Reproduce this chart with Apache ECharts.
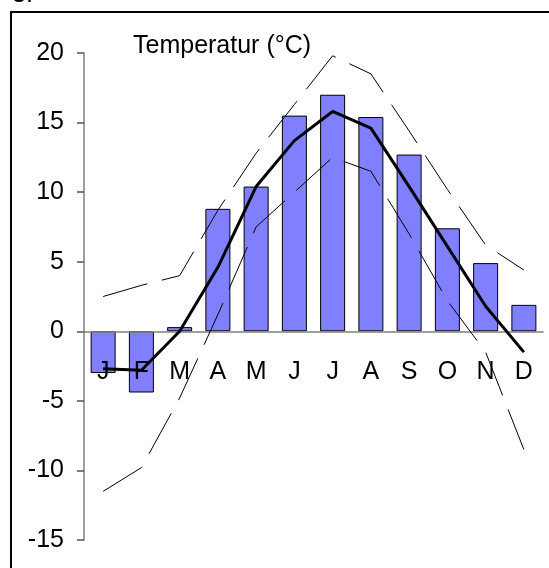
<!DOCTYPE html>
<html><head><meta charset="utf-8">
<script src="https://cdn.jsdelivr.net/npm/echarts@6/dist/echarts.min.js"></script>
<style>html,body{margin:0;padding:0;background:#fff}#c{width:549px;height:568px}</style>
</head><body><div id="c"></div>
<script>
const categories = ['J','F','M','A','M','J','J','A','S','O','N','D'];
const barValues = [-3.0, -4.4, 0.3, 8.8, 10.4, 15.5, 17.0, 15.4, 12.7, 7.4, 4.9, 1.9];
const meanValues = [-2.7, -2.8, 0.0, 4.6, 10.4, 13.7, 15.8, 14.6, 10.4, 6.1, 1.8, -1.5];
const maxValues = [2.5, 3.3, 4.0, 8.7, 12.8, 16.3, 19.8, 18.5, 14.4, 10.2, 6.2, 4.4];
const minValues = [-11.5, -9.8, -4.8, 1.2, 7.5, 10.0, 12.5, 11.5, 7.0, 2.2, -1.5, -8.5];
const titleText = 'Temperatur (°C)';

const FONT = "'Liberation Sans', Arial, sans-serif";
const chart = echarts.init(document.getElementById('c'), null, {renderer: 'canvas'});
const option = {
  animation: false,
  grid: {left: 84, right: 6, top: 53, bottom: 28, containLabel: false, outerBoundsMode: 'none'},
  xAxis: {
    type: 'category', data: categories, z: 5,
    axisLine: {onZero: true, lineStyle: {color: '#808080', width: 1.5}},
    axisTick: {show: false},
    axisLabel: {color: '#000', fontSize: 25, fontFamily: FONT, margin: -180, interval: 0},
    splitLine: {show: false}
  },
  yAxis: {
    type: 'value', min: -15, max: 20, interval: 5,
    axisLine: {show: true, lineStyle: {color: '#808080', width: 1.5}},
    axisTick: {show: true, length: 7, lineStyle: {color: '#555', width: 1.5}},
    axisLabel: {color: '#000', fontSize: 25, fontFamily: FONT, margin: 20},
    splitLine: {show: false}
  },
  series: [
    {type: 'bar', data: barValues, barWidth: 25, z: 2,
     itemStyle: {color: '#8080FF', borderColor: '#000', borderWidth: 1}},
    {type: 'line', data: maxValues, symbol: 'none', z: 6,
     lineStyle: {color: '#000', width: 1, type: [46, 15]}},
    {type: 'line', data: minValues, symbol: 'none', z: 6,
     lineStyle: {color: '#000', width: 1, type: [46, 15]}},
    {type: 'line', data: meanValues, symbol: 'none', z: 7,
     lineStyle: {color: '#000', width: 3}}
  ],
  graphic: [
    {type: 'rect', z: 100, shape: {x: 11, y: 12, width: 800, height: 800},
     style: {fill: 'none', stroke: '#000', lineWidth: 2}},
    {type: 'text', z: 100, style: {text: titleText, x: 133, y: 46, verticalAlign: 'middle',
     font: '25px ' + FONT, fill: '#000'}},
    {type: 'text', z: 100, style: {text: '3.', x: 12, y: 8, verticalAlign: 'bottom',
     font: '25px ' + FONT, fill: '#000'}}
  ]
};
chart.setOption(option);
</script>
</body></html>
